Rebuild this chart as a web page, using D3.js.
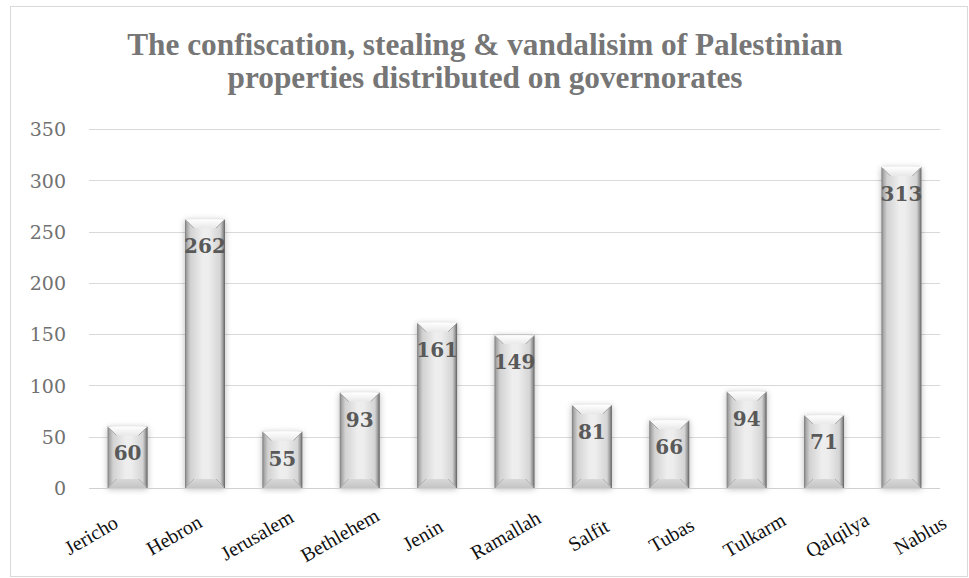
<!DOCTYPE html>
<html><head><meta charset="utf-8">
<script src="https://cdn.jsdelivr.net/npm/d3@7"></script>
<style>body{margin:0;background:#fff;}</style>
</head><body><svg id="c" width="969" height="578"></svg>
<script>
const categories = ["Jericho","Hebron","Jerusalem","Bethlehem","Jenin","Ramallah","Salfit","Tubas","Tulkarm","Qalqilya","Nablus"];
const values = [60,262,55,93,161,149,81,66,94,71,313];
const yTicks = [0,50,100,150,200,250,300,350];
const titleLines = ["The confiscation, stealing & vandalisim of Palestinian","properties distributed on governorates"];

const svg = d3.select("#c");
const M = {left:89, right:940, top:129, bottom:488};
const x = d3.scaleBand().domain(categories).range([M.left, M.right]).paddingInner(0.483).paddingOuter(0.24);
const xl = d3.scaleBand().domain(categories).range([49.5, 961.5]);
const y = d3.scaleLinear().domain([0,350]).range([M.bottom, M.top]);

const defs = svg.append("defs");
const hg = defs.append("linearGradient").attr("id","hg").attr("x1","0").attr("x2","1").attr("y1","0").attr("y2","0");
[[0,"#7a7a7a"],[0.05,"#a8a8a8"],[0.14,"#d2d2d2"],[0.45,"#eeeeee"],[0.6,"#ededed"],[0.88,"#d4d4d4"],[0.95,"#9a9a9a"],[1,"#5e5e5e"]]
  .forEach(([o,c])=>hg.append("stop").attr("offset",o).attr("stop-color",c));
const tg = defs.append("linearGradient").attr("id","tg").attr("x1","0").attr("x2","0").attr("y1","0").attr("y2","1");
[[0,"#ffffff"],[1,"#e8e8e8"]].forEach(([o,c])=>tg.append("stop").attr("offset",o).attr("stop-color",c));
const bg = defs.append("linearGradient").attr("id","bg").attr("x1","0").attr("x2","0").attr("y1","0").attr("y2","1");
[[0,"#d8d8d8"],[1,"#c4c4c4"]].forEach(([o,c])=>bg.append("stop").attr("offset",o).attr("stop-color",c));
const f = defs.append("filter").attr("id","sh").attr("x","-30%").attr("y","-10%").attr("width","160%").attr("height","120%");
f.append("feDropShadow").attr("dx",0).attr("dy",1).attr("stdDeviation",3).attr("flood-color","#000").attr("flood-opacity",0.28);

// chart border
svg.append("rect").attr("x",10.5).attr("y",6.5).attr("width",957).attr("height",570)
  .attr("fill","none").attr("stroke","#d9d9d9").attr("stroke-width",1);

// title
const title = svg.append("g");
titleLines.forEach((t,i)=>{
  title.append("text").attr("x",485).attr("y",55+i*33).attr("text-anchor","middle")
    .attr("font-family","Liberation Serif, serif").attr("font-weight","bold").attr("font-size",31.3)
    .attr("fill","#767676").text(t);
});

// gridlines
svg.append("g").selectAll("line").data(yTicks).join("line")
  .attr("x1",M.left).attr("x2",M.right).attr("y1",d=>Math.round(y(d))+0.5).attr("y2",d=>Math.round(y(d))+0.5)
  .attr("stroke","#d9d9d9").attr("stroke-width",1);

// y axis labels
const yAxis = d3.axisLeft(y).tickValues(yTicks).tickSize(0).tickPadding(0);
const ya = svg.append("g").attr("transform",`translate(66,0)`).call(yAxis);
ya.select(".domain").remove();
ya.selectAll("text").attr("font-family","DejaVu Serif, serif").attr("font-size",19).attr("fill","#717171").attr("dy","0.36em");

// bars
const bars = svg.append("g").selectAll("g").data(categories.map((c,i)=>({c,v:values[i]}))).join("g");
const bw = x.bandwidth(), bv = 9;
bars.append("rect").attr("x",d=>x(d.c)).attr("y",d=>y(d.v)).attr("width",bw).attr("height",d=>y(0)-y(d.v))
  .attr("fill","url(#hg)").attr("filter","url(#sh)");
bars.append("path").attr("d",d=>{const x0=x(d.c),x1=x0+bw,y0=y(d.v);
    return `M${x0},${y0}L${x1},${y0}L${x1-bv},${y0+bv}L${x0+bv},${y0+bv}Z`;})
  .attr("fill","url(#tg)");
bars.append("path").attr("d",d=>{const x0=x(d.c),x1=x0+bw,y0=y(d.v);
    return `M${x0+1},${y0+1}L${x0+bv},${y0+bv}M${x1-1},${y0+1}L${x1-bv},${y0+bv}`;})
  .attr("stroke","#a6a6a6").attr("stroke-width",1).attr("fill","none");
bars.append("path").attr("d",d=>{const x0=x(d.c),x1=x0+bw,yb=y(0);
    return `M${x0+1},${yb}L${x1-1},${yb}L${x1-bv},${yb-bv}L${x0+bv},${yb-bv}Z`;})
  .attr("fill","url(#bg)");
bars.append("path").attr("d",d=>{const x0=x(d.c),x1=x0+bw,yb=y(0);
    return `M${x0+1},${yb-1}L${x0+bv},${yb-bv}M${x1-1},${yb-1}L${x1-bv},${yb-bv}`;})
  .attr("stroke","#b0b0b0").attr("stroke-width",1).attr("fill","none");

// value labels
bars.append("text").attr("x",d=>x(d.c)+bw/2).attr("y",d=>y(d.v)+34).attr("text-anchor","middle")
  .attr("font-family","DejaVu Serif, serif").attr("font-weight","bold").attr("font-size",20)
  .attr("fill","#595959").text(d=>d.v);

// baseline
svg.append("line").attr("x1",M.left).attr("x2",M.right).attr("y1",Math.round(y(0))+0.5).attr("y2",Math.round(y(0))+0.5)
  .attr("stroke","#d0d0d0");

// x labels
svg.append("g").selectAll("text").data(categories).join("text")
  .attr("transform",d=>`translate(${xl(d)+xl.bandwidth()/2},535) rotate(-30)`)
  .attr("text-anchor","middle").attr("dy","0.35em")
  .attr("font-family","Liberation Serif, serif").attr("font-size",20).attr("fill","#111")
  .text(d=>d);
</script></body></html>
